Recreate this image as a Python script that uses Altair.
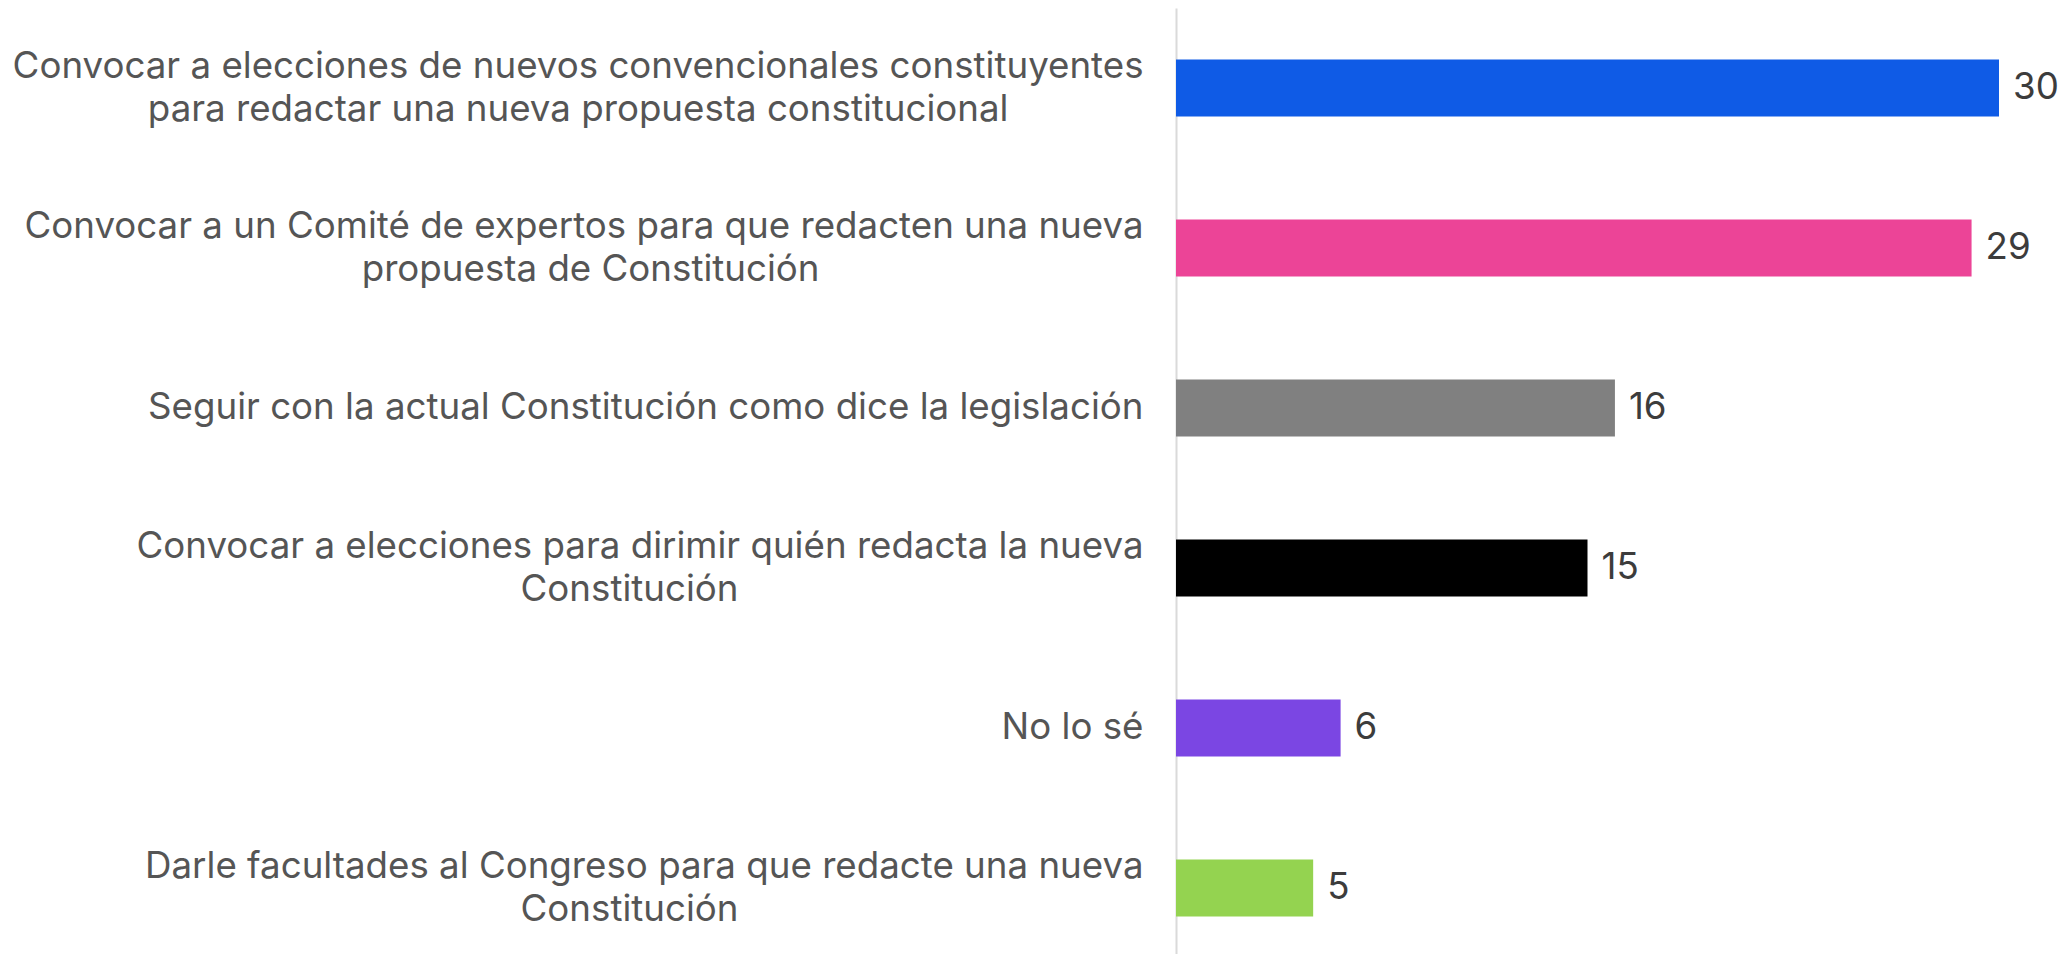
import altair as alt
import pandas as pd

line1 = [
    "Convocar a elecciones de nuevos convencionales constituyentes",
    "Convocar a un Comité de expertos para que redacten una nueva",
    "Seguir con la actual Constitución como dice la legislación",
    "Convocar a elecciones para dirimir quién redacta la nueva",
    "No lo sé",
    "Darle facultades al Congreso para que redacte una nueva",
]
line2 = [
    "para redactar una nueva propuesta constitucional",
    "propuesta de Constitución",
    "",
    "Constitución",
    "",
    "Constitución",
]
values = [30, 29, 16, 15, 6, 5]
colors = ["#0F5BE6", "#EC4497", "#808080", "#000000", "#7B46E3", "#94D350"]

BLANK = "\u2800"  # blank, non-whitespace filler so the 2nd line sits centred
BLANK_EM = 0.71

# rough glyph advance widths (em) used only to centre the second label line
_W = {"i": .24, "l": .24, "j": .24, "í": .24, "t": .36, "f": .35, "r": .37,
      " ": .28, "m": .87, "w": .78, "C": .72, "D": .72, "N": .74, "S": .64,
      "a": .55, "c": .54, "e": .56, "é": .56, "s": .51, "v": .53, "y": .53,
      "x": .52, "z": .52, "k": .53}


def est_width(s):
    return sum(_W.get(ch, 0.59) for ch in s)


def make_label(a, b):
    if not b:
        return a
    n = round((est_width(a) - est_width(b)) / 2 / BLANK_EM)
    return a + "|" + b + BLANK * max(0, n)


labels = [make_label(a, b) for a, b in zip(line1, line2)]

df = pd.DataFrame({"label": labels, "value": values, "color": colors})

FONT = "Inter"
FS = 36.7
LINE_H = 43

y_enc = alt.Y(
    "label:N",
    sort=None,
    title=None,
    scale=alt.Scale(range=[0, 960], paddingInner=0.644, paddingOuter=0.322),
    axis=alt.Axis(
        labelExpr="split(datum.label, '|')",
        labelFont=FONT,
        labelFontSize=FS,
        labelColor="#555555",
        labelLimit=2000,
        labelPadding=33,
        labelLineHeight=LINE_H,
        labelOffset={
            "condition": {"test": "indexof(datum.label, '|') >= 0",
                          "value": -LINE_H / 2},
            "value": 0,
        },
        ticks=False,
        domainColor="#DADADA",
        domainWidth=2,
        grid=False,
    ),
)

x_enc = alt.X(
    "value:Q",
    axis=None,
    scale=alt.Scale(domain=[0, 30], nice=False, zero=True),
)

bars = alt.Chart(df).mark_bar().encode(
    y=y_enc,
    x=x_enc,
    color=alt.Color("label:N", sort=None,
                    scale=alt.Scale(domain=labels, range=colors), legend=None),
)

text = alt.Chart(df).mark_text(
    align="left", baseline="middle", dx=14, font=FONT, fontSize=FS, color="#3C3C3C"
).encode(
    y=alt.Y("label:N", sort=None),
    x="value:Q",
    text="value:Q",
)

chart = (
    alt.layer(bars, text)
    .properties(
        width=823,
        height=946,
        autosize=alt.AutoSizeParams(type="none"),
        padding={"left": 1168, "top": 0, "right": 62, "bottom": 0},
        background="white",
    )
    .configure_view(stroke=None)
)

chart.save("out.html", embed_options={"renderer": "svg", "actions": False})
